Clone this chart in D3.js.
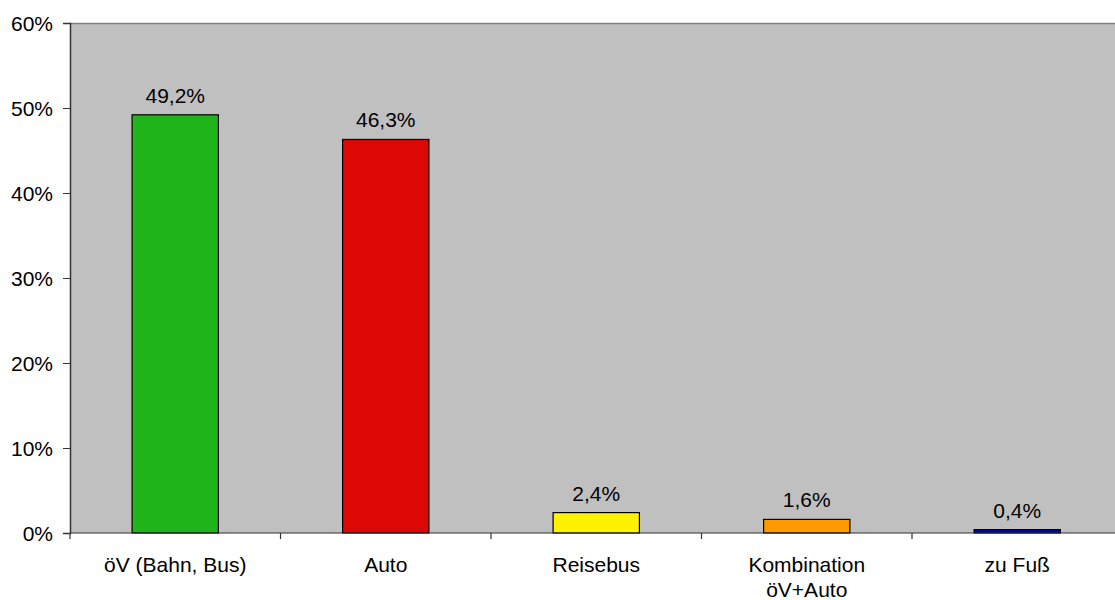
<!DOCTYPE html>
<html><head><meta charset="utf-8">
<script src="https://cdn.jsdelivr.net/npm/d3@7/dist/d3.min.js"></script>
<style>body{margin:0;background:#fff;}svg{display:block;font-family:"Liberation Sans",Arial,sans-serif;}</style>
</head><body><svg id="c" width="1115" height="600"></svg>
<script>
const categories = ["öV (Bahn, Bus)", "Auto", "Reisebus", "Kombination\nöV+Auto", "zu Fuß"];
const values = [49.2, 46.3, 2.4, 1.6, 0.4];
const valueLabels = ["49,2%", "46,3%", "2,4%", "1,6%", "0,4%"];
const colors = ["#20b51a", "#dd0806", "#fff200", "#ff9900", "#0000cc"];
const yTicks = [0, 10, 20, 30, 40, 50, 60];

const svg = d3.select("#c");
const L = 70, T = 23, B = 533, R = 1122.5;
const FS = 21;
const x = d3.scaleBand().domain(categories).range([L, R]).paddingInner(0.59).paddingOuter(0.295);
const y = d3.scaleLinear().domain([0, 60]).range([B, T]);

svg.append("rect").attr("x", L).attr("y", T).attr("width", R - L).attr("height", B - T).attr("fill", "#c0c0c0");
svg.append("line").attr("x1", L).attr("x2", R).attr("y1", T + 0.5).attr("y2", T + 0.5).attr("stroke", "#808080").attr("stroke-width", 1.5);

svg.selectAll("rect.bar").data(values).enter().append("rect").attr("class", "bar")
  .attr("x", (d, i) => x(categories[i]))
  .attr("y", d => y(d))
  .attr("width", x.bandwidth())
  .attr("height", d => B - y(d))
  .attr("fill", (d, i) => colors[i])
  .attr("stroke", "#000").attr("stroke-width", 1.2);

svg.selectAll("text.val").data(values).enter().append("text").attr("class", "val")
  .attr("x", (d, i) => x(categories[i]) + x.bandwidth() / 2)
  .attr("y", d => y(d) - 12)
  .attr("text-anchor", "middle").attr("font-size", FS).attr("fill", "#000")
  .text((d, i) => valueLabels[i]);

// y axis
const ya = svg.append("g").attr("transform", `translate(${L},0)`)
  .call(d3.axisLeft(y).tickValues(yTicks).tickSize(7).tickPadding(10).tickFormat(d => d + "%"));
ya.select(".domain").attr("stroke", "#333").attr("stroke-width", 1.5);
ya.selectAll(".tick line").attr("stroke", "#333");
ya.selectAll(".tick text").attr("font-size", FS).attr("fill", "#000").attr("font-family", "Liberation Sans, Arial, sans-serif").attr("dy", "0.35em");

// x axis baseline and ticks at category boundaries
svg.append("line").attr("x1", L).attr("x2", R).attr("y1", B).attr("y2", B).attr("stroke", "#333").attr("stroke-width", 1.2);
const step = x.step();
const bounds = d3.range(categories.length + 1).map(i => L + i * step);
svg.selectAll("line.xt").data(bounds).enter().append("line").attr("class", "xt")
  .attr("x1", d => d).attr("x2", d => d).attr("y1", B).attr("y2", B + 6).attr("stroke", "#333").attr("stroke-width", 1.2);

const xl = svg.selectAll("text.cat").data(categories).enter().append("text").attr("class", "cat")
  .attr("x", d => x(d) + x.bandwidth() / 2)
  .attr("y", 572)
  .attr("text-anchor", "middle").attr("font-size", FS).attr("fill", "#000");
xl.each(function(d) {
  const lines = d.split("\n");
  const t = d3.select(this);
  lines.forEach((ln, i) => t.append("tspan").attr("x", t.attr("x")).attr("dy", i ? 25 : 0).text(ln));
});
</script></body></html>
